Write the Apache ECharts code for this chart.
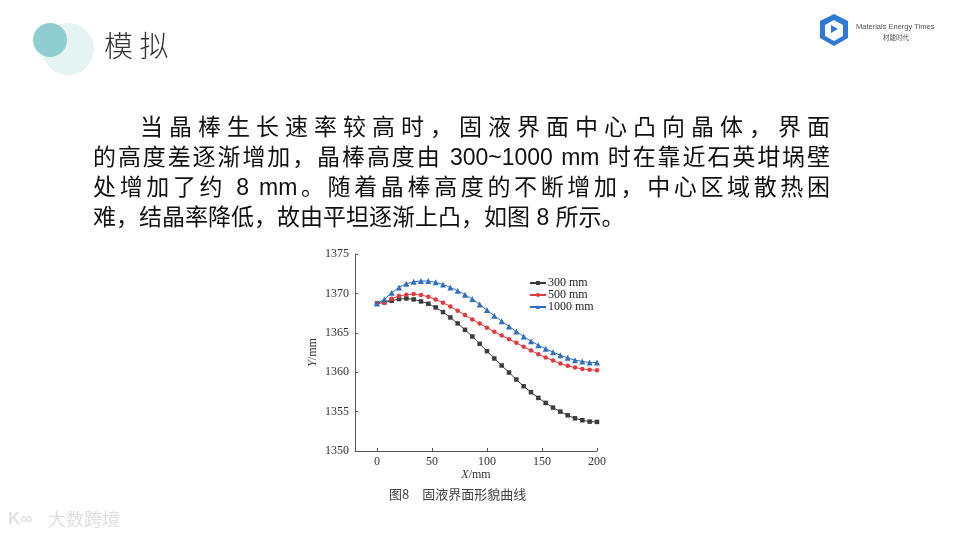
<!DOCTYPE html>
<html>
<head>
<meta charset="utf-8">
<script src="https://cdn.jsdelivr.net/npm/echarts@6/dist/echarts.min.js"></script>
<style>
  html, body { margin: 0; padding: 0; background: #fff; }
  #wrap { position: relative; width: 960px; height: 540px; overflow: hidden; background: #fff; }
  #chart { position: absolute; left: 0; top: 0; width: 960px; height: 540px; }
  .para { position: absolute; left: 93px; width: 737px; font-family: "Liberation Sans", "Noto Sans CJK SC", sans-serif; font-size: 23px; color: #111; line-height: 30px; white-space: nowrap; }
  .just { text-align: justify; text-align-last: justify; white-space: normal; }
</style>
</head>
<body>
<div id="wrap">
  <div id="chart"></div>
  <div class="para just" style="top:112px; left:140px; width:690px;">当晶棒生长速率较高时，固液界面中心凸向晶体，界面</div>
  <div class="para just" style="top:142px;">的高度差逐渐增加，晶棒高度由 300~1000 mm 时在靠近石英坩埚壁</div>
  <div class="para just" style="top:172px;">处增加了约 8 mm。随着晶棒高度的不断增加，中心区域散热困</div>
  <div class="para" style="top:202px;">难，结晶率降低，故由平坦逐渐上凸，如图 8 所示。</div>
</div>
<script>
const xValues = [0, 6.67, 13.33, 20, 26.67, 33.33, 40, 46.67, 53.33, 60, 66.67, 73.33, 80, 86.67, 93.33, 100,
  106.67, 113.33, 120, 126.67, 133.33, 140, 146.67, 153.33, 160, 166.67, 173.33, 180, 186.67, 193.33, 200];
const seriesNames = ['300 mm', '500 mm', '1000 mm'];
const y300 = [1368.73, 1368.86, 1369.07, 1369.28, 1369.36, 1369.24, 1368.98, 1368.69, 1368.22, 1367.63,
  1366.95, 1366.19, 1365.38, 1364.53, 1363.60, 1362.67, 1361.74, 1360.85, 1359.96, 1359.07, 1358.22,
  1357.46, 1356.74, 1356.10, 1355.51, 1355.00, 1354.53, 1354.15, 1353.90, 1353.73, 1353.69];
const y500 = [1368.73, 1368.86, 1369.32, 1369.66, 1369.83, 1369.92, 1369.79, 1369.58, 1369.24, 1368.81,
  1368.35, 1367.80, 1367.25, 1366.69, 1366.19, 1365.64, 1365.13, 1364.66, 1364.19, 1363.73, 1363.22,
  1362.75, 1362.29, 1361.86, 1361.48, 1361.10, 1360.81, 1360.59, 1360.42, 1360.30, 1360.25];
const y1000 = [1368.73, 1369.24, 1370.08, 1370.76, 1371.23, 1371.48, 1371.57, 1371.57, 1371.40, 1371.14,
  1370.76, 1370.34, 1369.83, 1369.28, 1368.60, 1367.88, 1367.16, 1366.48, 1365.81, 1365.17, 1364.53,
  1363.94, 1363.43, 1362.97, 1362.54, 1362.16, 1361.82, 1361.53, 1361.36, 1361.23, 1361.23];
const xTickValues = [0, 50, 100, 150, 200];
const yTickMin = 1350, yTickMax = 1375, yTickStep = 5;
const captionText = '图8　固液界面形貌曲线';

const colors = ['#3c3c3c', '#e2393f', '#2f6fbb'];
const symbols = ['rect', 'circle', 'triangle'];
const ySets = [y300, y500, y1000];
const serif = '"Liberation Serif", "Times New Roman", serif';

const chart = echarts.init(document.getElementById('chart'), null, { renderer: 'canvas' });
chart.setOption({
  backgroundColor: 'transparent',
  animation: false,
  grid: { left: 355, top: 254, width: 242, height: 197, containLabel: false },
  legend: {
    orient: 'vertical', left: 524, top: 272, itemWidth: 16, itemHeight: 5, itemGap: 0,
    textStyle: { fontFamily: serif, fontSize: 12, color: '#222', padding: [0, 0, 0, -3] },
    data: seriesNames
  },
  xAxis: {
    type: 'value', min: -20, max: 200,
    name: '{i|X}/mm', nameLocation: 'middle', nameGap: 12,
    nameTextStyle: { fontFamily: serif, fontSize: 12, color: '#333',
      rich: { i: { fontStyle: 'italic', fontFamily: serif, fontSize: 12, color: '#333' } } },
    axisLine: { onZero: false, lineStyle: { color: '#555', width: 1 } },
    axisTick: { inside: true, length: 3, customValues: xTickValues, lineStyle: { color: '#555' } },
    axisLabel: { customValues: xTickValues, fontFamily: serif, fontSize: 12, color: '#333', margin: 5 },
    splitLine: { show: false }
  },
  yAxis: {
    type: 'value', min: yTickMin, max: yTickMax, interval: yTickStep,
    name: '{i|Y}/mm', nameLocation: 'middle', nameGap: 36,
    nameTextStyle: { fontFamily: serif, fontSize: 12, color: '#333',
      rich: { i: { fontStyle: 'italic', fontFamily: serif, fontSize: 12, color: '#333' } } },
    axisLine: { show: true, onZero: false, lineStyle: { color: '#555', width: 1 } },
    axisTick: { show: true, inside: true, length: 3, lineStyle: { color: '#555' } },
    axisLabel: { fontFamily: serif, fontSize: 12, color: '#333', margin: 6, formatter: v => String(v) },
    splitLine: { show: false }
  },
  series: seriesNames.map((n, k) => ({
    name: n, type: 'line', data: xValues.map((x, i) => [x, ySets[k][i]]),
    symbol: symbols[k], symbolSize: k === 2 ? 6 : 4.5, showAllSymbol: true,
    itemStyle: { color: colors[k] }, lineStyle: { color: colors[k], width: 1 }
  })),
  graphic: [
    { type: 'circle', shape: { cx: 68, cy: 49, r: 26 }, style: { fill: '#e5f3f3' }, z: 1 },
    { type: 'circle', shape: { cx: 50, cy: 40, r: 17 }, style: { fill: '#8fcdd0' }, z: 2 },
    { type: 'text', left: 104, top: 31, style: { text: '模 拟', font: '300 29px "Noto Sans CJK SC"', fill: '#333' } },
    { type: 'text', left: 389, top: 488, style: { text: captionText, font: '13px "Noto Sans CJK SC"', fill: '#444' } },
    { type: 'polygon', shape: { points: [[834, 14], [848, 21], [848, 38], [834, 46], [820, 38], [820, 21]] }, style: { fill: '#2d79d6' } },
    { type: 'polygon', shape: { points: [[834, 20], [843, 25], [843, 36], [834, 41], [825, 36], [825, 25]] }, style: { fill: '#ffffff' } },
    { type: 'polygon', shape: { points: [[831, 25], [838, 29], [831, 33]] }, style: { fill: '#2d79d6' } },
    { type: 'text', left: 856, top: 23, style: { text: 'Materials Energy Times', font: '7.5px "Liberation Sans"', fill: '#555' } },
    { type: 'text', left: 883, top: 34, style: { text: '材能时代', font: '6.5px "Noto Sans CJK SC"', fill: '#555' } },
    { type: 'text', left: 8, top: 511, style: { text: 'K∞', font: 'bold 17px "Liberation Sans"', fill: '#e2e2e2' } },
    { type: 'text', left: 48, top: 510, style: { text: '大数跨境', font: '18px "Noto Sans CJK SC"', fill: '#e0e0e0' } }
  ]
});
</script>
</body>
</html>
